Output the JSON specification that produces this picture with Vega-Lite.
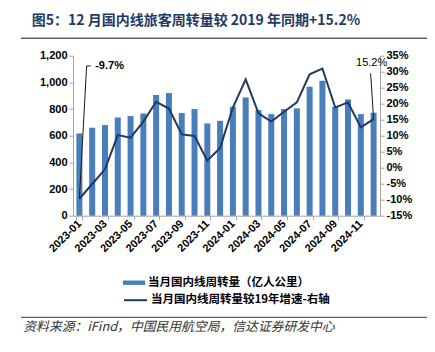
{
  "$schema": "https://vega.github.io/schema/vega-lite/v6.json",
  "autosize": {"type": "none"},
  "padding": {"left": 73, "top": 55.7, "right": 55, "bottom": 136.3},
  "background": "white",
  "width": 307,
  "height": 160,
  "config": {
    "view": {"stroke": null},
    "axis": {
      "labelFont": "Liberation Sans",
      "labelFontSize": 11,
      "labelFontWeight": "bold",
      "labelColor": "#000000",
      "domainColor": "#a6a6a6",
      "tickColor": "#a6a6a6",
      "tickSize": 4,
      "grid": false,
      "title": null,
      "labelOverlap": false
    }
  },
  "datasets": {
    "monthly": [
      {"month": "2023-01", "vol": 617, "pct": -9.7},
      {"month": "2023-02", "vol": 660, "pct": -5.1},
      {"month": "2023-03", "vol": 680, "pct": -0.5},
      {"month": "2023-04", "vol": 737, "pct": 10.2},
      {"month": "2023-05", "vol": 747, "pct": 9.4},
      {"month": "2023-06", "vol": 767, "pct": 14.4},
      {"month": "2023-07", "vol": 905, "pct": 20.6},
      {"month": "2023-08", "vol": 920, "pct": 18.5},
      {"month": "2023-09", "vol": 770, "pct": 10.4},
      {"month": "2023-10", "vol": 800, "pct": 9.9},
      {"month": "2023-11", "vol": 692, "pct": 2.2},
      {"month": "2023-12", "vol": 712, "pct": 6.2},
      {"month": "2024-01", "vol": 817, "pct": 18.8},
      {"month": "2024-02", "vol": 887, "pct": 27.6},
      {"month": "2024-03", "vol": 792, "pct": 17.0},
      {"month": "2024-04", "vol": 762, "pct": 14.4},
      {"month": "2024-05", "vol": 800, "pct": 17.5},
      {"month": "2024-06", "vol": 805, "pct": 20.4},
      {"month": "2024-07", "vol": 967, "pct": 29.2},
      {"month": "2024-08", "vol": 1012, "pct": 31.0},
      {"month": "2024-09", "vol": 817, "pct": 18.8},
      {"month": "2024-10", "vol": 872, "pct": 20.4},
      {"month": "2024-11", "vol": 762, "pct": 12.6},
      {"month": "2024-12", "vol": 772, "pct": 15.2}
    ]
  },
  "layer": [
    {
      "data": {"name": "monthly"},
      "mark": {"type": "bar", "color": "#4a7ebb"},
      "encoding": {
        "x": {
          "field": "month",
          "type": "ordinal",
          "scale": {"paddingInner": 0.53, "paddingOuter": 0.265},
          "axis": {
            "values": ["2023-01", "2023-03", "2023-05", "2023-07", "2023-09", "2023-11", "2024-01", "2024-03", "2024-05", "2024-07", "2024-09", "2024-11"],
            "labelAngle": -45,
            "labelAlign": "right",
            "labelBaseline": "middle",
            "labelPadding": 2,
            "tickBand": "extent"
          }
        },
        "y": {
          "field": "vol",
          "type": "quantitative",
          "scale": {"domain": [0, 1200]},
          "axis": {"orient": "left", "values": [0, 200, 400, 600, 800, 1000, 1200], "tickCount": 7, "labelExpr": "format(datum.value, ',')", "labelOverlap": false}
        },
        "color": {
          "datum": "当月国内线周转量（亿人公里）",
          "type": "nominal",
          "scale": {"range": ["#4a7ebb"]},
          "legend": {
            "title": null,
            "orient": "none",
            "legendX": 50,
            "legendY": 216,
            "padding": 0,
            "symbolType": "M-1,-0.2L1,-0.2L1,0.2L-1,0.2Z",
            "symbolSize": 484,
            "symbolStrokeWidth": 0,
            "labelFont": "Noto Sans CJK SC",
            "labelFontSize": 11.5,
            "labelFontWeight": "bold",
            "labelColor": "#000000",
            "labelLimit": 400,
            "labelOffset": 3
          }
        }
      }
    },
    {
      "data": {"name": "monthly"},
      "encoding": {
        "x": {
          "field": "month",
          "type": "ordinal",
          "scale": {"paddingInner": 0.53, "paddingOuter": 0.265},
          "axis": null
        }
      },
      "layer": [
        {
          "mark": {"type": "line", "strokeWidth": 2},
          "encoding": {
            "y": {
              "field": "pct",
              "type": "quantitative",
              "scale": {"domain": [-15, 35]},
              "axis": {"orient": "right", "values": [-15, -10, -5, 0, 5, 10, 15, 20, 25, 30, 35], "tickCount": 11, "labelExpr": "datum.value + '%'", "labelOverlap": false}
            },
            "stroke": {
              "datum": "当月国内线周转量较19年增速-右轴",
              "type": "nominal",
              "scale": {"range": ["#1f3864"]},
              "legend": {
                "title": null,
                "orient": "none",
                "legendX": 50,
                "legendY": 232,
                "padding": 0,
                "symbolType": "stroke",
                "symbolSize": 529,
                "symbolStrokeWidth": 2,
                "labelFont": "Noto Sans CJK SC",
                "labelFontSize": 11.5,
                "labelFontWeight": "bold",
                "labelColor": "#000000",
                "labelLimit": 400,
                "labelOffset": 3
              }
            }
          }
        },
        {
          "mark": {"type": "rule", "color": "#4f81bd", "strokeDash": [6, 3], "strokeWidth": 1.5},
          "encoding": {"y": {"datum": 0, "type": "quantitative"}}
        },
        {
          "data": {"values": [{"month": "2023-01", "pct": -9.7, "pct2": 31.8}]},
          "mark": {"type": "rule", "color": "#1a1a1a", "strokeWidth": 1},
          "encoding": {
            "x": {"field": "month", "type": "ordinal", "bandPosition": 0.5},
            "x2": {"field": "month", "bandPosition": 1.7},
            "y": {"field": "pct", "type": "quantitative"},
            "y2": {"field": "pct2"}
          }
        },
        {
          "data": {"values": [{"month": "2023-01", "pct": 31.8}]},
          "mark": {"type": "rule", "color": "#1a1a1a", "strokeWidth": 1},
          "encoding": {
            "x": {"field": "month", "type": "ordinal", "bandPosition": 1.7},
            "x2": {"field": "month", "bandPosition": 2.4},
            "y": {"field": "pct", "type": "quantitative"}
          }
        },
        {
          "data": {"values": [{"month": "2024-12", "pct": 15.2, "pct2": 29.5}]},
          "mark": {"type": "rule", "color": "#1a1a1a", "strokeWidth": 1},
          "encoding": {
            "x": {"field": "month", "type": "ordinal", "bandPosition": 0.5},
            "x2": {"field": "month", "bandPosition": 0},
            "y": {"field": "pct", "type": "quantitative"},
            "y2": {"field": "pct2"}
          }
        },
        {
          "data": {"values": [{"month": "2023-02", "pct": 31.8, "label": "-9.7%"}]},
          "mark": {"type": "text", "align": "left", "baseline": "middle", "dx": 3, "font": "Liberation Sans", "fontSize": 11, "fontWeight": "bold", "color": "#000000"},
          "encoding": {
            "x": {"field": "month", "type": "ordinal"},
            "y": {"field": "pct", "type": "quantitative"},
            "text": {"field": "label"}
          }
        },
        {
          "data": {"values": [{"month": "2024-12", "pct": 32.7, "label": "15.2%"}]},
          "mark": {"type": "text", "align": "center", "baseline": "middle", "dx": -2, "font": "Liberation Sans", "fontSize": 11, "color": "#000000"},
          "encoding": {
            "x": {"field": "month", "type": "ordinal"},
            "y": {"field": "pct", "type": "quantitative"},
            "text": {"field": "label"}
          }
        }
      ]
    },
    {
      "data": {"values": [{}]},
      "layer": [
        {
          "mark": {"type": "rect", "color": "#5f5f5f"},
          "encoding": {
            "x": {"datum": -0.1694, "type": "quantitative", "scale": {"domain": [0, 1], "nice": false, "zero": false}, "axis": null},
            "x2": {"datum": 1.1531},
            "y": {"datum": 40.65, "type": "quantitative", "scale": {"domain": [-15, 35], "nice": false, "zero": false}, "axis": null},
            "y2": {"datum": 40.23}
          }
        },
        {
          "mark": {"type": "rect", "color": "#5f5f5f"},
          "encoding": {
            "x": {"datum": -0.1694, "type": "quantitative"},
            "x2": {"datum": 1.1531},
            "y": {"datum": -46.54, "type": "quantitative"},
            "y2": {"datum": -46.96}
          }
        },
        {
          "mark": {"type": "text", "align": "left", "baseline": "middle", "font": "Noto Sans CJK SC", "fontSize": 14, "fontWeight": "bold", "color": "#1f3a68"},
          "encoding": {
            "x": {"datum": -0.1345, "type": "quantitative"},
            "y": {"datum": 46.0, "type": "quantitative"},
            "text": {"value": "图5：12 月国内线旅客周转量较 2019 年同期+15.2%"}
          }
        },
        {
          "mark": {"type": "text", "align": "left", "baseline": "middle", "font": "Noto Sans CJK SC", "fontSize": 12.8, "fontStyle": "italic", "color": "#333333"},
          "encoding": {
            "x": {"datum": -0.1619, "type": "quantitative"},
            "y": {"datum": -49.69, "type": "quantitative"},
            "text": {"value": "资料来源：iFind，中国民用航空局，信达证券研发中心"}
          }
        }
      ]
    }
  ],
  "resolve": {"scale": {"x": "independent", "y": "independent"}}
}
